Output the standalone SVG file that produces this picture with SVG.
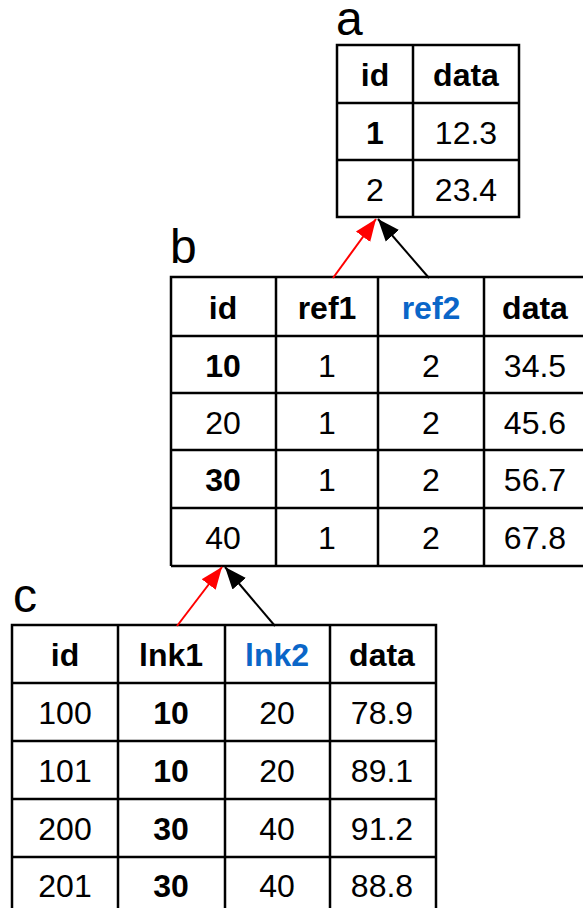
<svg xmlns="http://www.w3.org/2000/svg" width="583" height="908" viewBox="0 0 583 908">
<style>
.g{fill:none;stroke:#000;stroke-width:2.5}
.t{font-family:"Liberation Sans",Arial,sans-serif;font-size:32px;text-anchor:middle;fill:#000}
.b{font-weight:bold}
.bl{fill:#0a66c8}
.lbl{font-family:"Liberation Sans",Arial,sans-serif;font-size:48px;fill:#000}
</style>
<defs>
<marker id="ar" viewBox="0 0 10 10" refX="10" refY="5" markerWidth="22" markerHeight="22" markerUnits="userSpaceOnUse" orient="auto"><path d="M0,1 L10,5 L0,9 Z" fill="#ff0000"/></marker>
<marker id="ak" viewBox="0 0 10 10" refX="10" refY="5" markerWidth="22" markerHeight="22" markerUnits="userSpaceOnUse" orient="auto"><path d="M0,1 L10,5 L0,9 Z" fill="#000"/></marker>
</defs>
<rect width="583" height="908" fill="#fff"/>
<g id="table-a">
<text class="lbl" x="336" y="35" font-size="48">a</text>
<path class="g" d="M337,45H519V217H337Z M413,45V217 M337,103H519 M337,160H519"/>
<text class="t b" x="375" y="86">id</text><text class="t b" x="466" y="86">data</text>
<text class="t b" x="375" y="144">1</text><text class="t" x="466" y="144">12.3</text>
<text class="t" x="375" y="201">2</text><text class="t" x="466" y="201">23.4</text>
</g>
<g id="table-b">
<text class="lbl" x="170" y="263">b</text>
<path class="g" d="M171,566V277H590 M171,566H590 M276,277V566 M378,277V566 M484,277V566 M171,336H590 M171,393H590 M171,450H590 M171,508H590"/>
<text class="t b" x="223" y="319">id</text><text class="t b" x="327" y="319">ref1</text><text class="t b bl" x="431" y="319">ref2</text><text class="t b" x="535" y="319">data</text>
<text class="t b" x="223" y="377">10</text><text class="t" x="327" y="377">1</text><text class="t" x="431" y="377">2</text><text class="t" x="535" y="377">34.5</text>
<text class="t" x="223" y="434">20</text><text class="t" x="327" y="434">1</text><text class="t" x="431" y="434">2</text><text class="t" x="535" y="434">45.6</text>
<text class="t b" x="223" y="491">30</text><text class="t" x="327" y="491">1</text><text class="t" x="431" y="491">2</text><text class="t" x="535" y="491">56.7</text>
<text class="t" x="223" y="549">40</text><text class="t" x="327" y="549">1</text><text class="t" x="431" y="549">2</text><text class="t" x="535" y="549">67.8</text>
</g>
<g id="table-c">
<text class="lbl" x="13" y="612" font-size="44">c</text>
<path class="g" d="M12,920V625H436V920 M118,625V920 M225,625V920 M330,625V920 M12,683H436 M12,741H436 M12,799H436 M12,857H436"/>
<text class="t b" x="65" y="665.5">id</text><text class="t b" x="171" y="665.5">lnk1</text><text class="t b bl" x="277" y="665.5">lnk2</text><text class="t b" x="382" y="665.5">data</text>
<text class="t" x="65" y="723.5">100</text><text class="t b" x="171" y="723.5">10</text><text class="t" x="277" y="723.5">20</text><text class="t" x="382" y="723.5">78.9</text>
<text class="t" x="65" y="781.5">101</text><text class="t b" x="171" y="781.5">10</text><text class="t" x="277" y="781.5">20</text><text class="t" x="382" y="781.5">89.1</text>
<text class="t" x="65" y="839.5">200</text><text class="t b" x="171" y="839.5">30</text><text class="t" x="277" y="839.5">40</text><text class="t" x="382" y="839.5">91.2</text>
<text class="t" x="65" y="897">201</text><text class="t b" x="171" y="897">30</text><text class="t" x="277" y="897">40</text><text class="t" x="382" y="897">88.8</text>
</g>
<g id="connectors">
<line x1="333" y1="278" x2="376" y2="219" stroke="#ff0000" stroke-width="2" marker-end="url(#ar)"/>
<line x1="429" y1="278" x2="378" y2="219" stroke="#000" stroke-width="2" marker-end="url(#ak)"/>
<line x1="177" y1="626" x2="222" y2="567" stroke="#ff0000" stroke-width="2" marker-end="url(#ar)"/>
<line x1="275" y1="626" x2="225" y2="567" stroke="#000" stroke-width="2" marker-end="url(#ak)"/>
</g>
</svg>
